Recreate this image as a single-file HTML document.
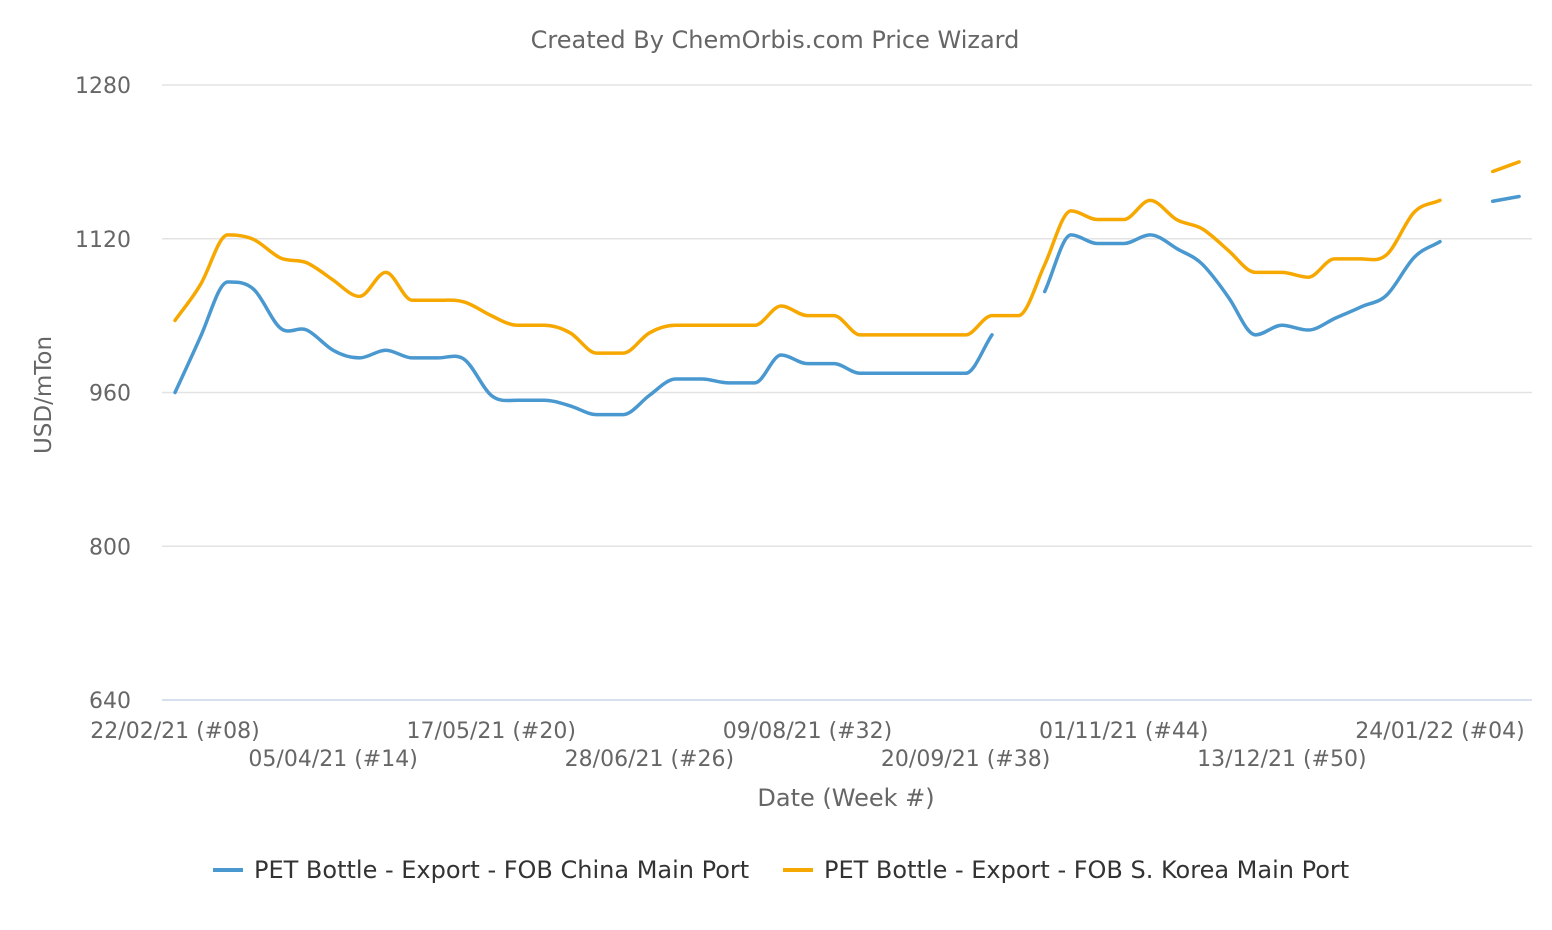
<!DOCTYPE html>
<html><head><meta charset="utf-8"><style>
body{margin:0;background:#fff;}
svg{display:block;font-family:"DejaVu Sans","Liberation Sans",sans-serif;}
</style></head><body>
<svg id="chart" width="1552" height="930">
<text x="775" y="48" text-anchor="middle" font-size="24" fill="#666">Created By ChemOrbis.com Price Wizard</text>
<g id="grid"></g><g id="series"></g><g id="xlabels"></g>
<text transform="translate(51,395) rotate(-90)" text-anchor="middle" font-size="23" fill="#666">USD/mTon</text>
<text x="846" y="806" text-anchor="middle" font-size="24" fill="#666">Date (Week #)</text>
<g><line x1="213" y1="870" x2="243" y2="870" stroke="#4a98d0" stroke-width="4"/><text x="254" y="878" font-size="24" fill="#333">PET Bottle - Export - FOB China Main Port</text></g>
<g><line x1="783" y1="870" x2="813" y2="870" stroke="#f7a800" stroke-width="4"/><text x="824" y="878" font-size="24" fill="#333">PET Bottle - Export - FOB S. Korea Main Port</text></g>
</svg>
<script>
const yTicks=[640,800,960,1120,1280];
const xTickLabels=["22/02/21 (#08)","05/04/21 (#14)","17/05/21 (#20)","28/06/21 (#26)","09/08/21 (#32)","20/09/21 (#38)","01/11/21 (#44)","13/12/21 (#50)","24/01/22 (#04)"];
const chinaValues=[960,1020,1075,1067,1027,1025,1004,996,1004,996,996,994,957,952,952,946,937,937,957,974,974,970,970,999,990,990,980,980,980,980,980,1020,null,1065,1124,1115,1115,1124,1110,1093,1058,1020,1030,1025,1037,1049,1062,1100,1117,null,1159,1164];
const koreaValues=[1035,1074,1124,1119,1100,1095,1077,1060,1085,1056,1056,1054,1040,1030,1030,1022,1001,1001,1022,1030,1030,1030,1030,1050,1040,1040,1020,1020,1020,1020,1020,1040,1040,1093,1149,1140,1140,1160,1140,1130,1107,1085,1085,1080,1099,1099,1104,1147,1160,null,1190,1200];
const NS="http://www.w3.org/2000/svg";
const xs=i=>175+i*(1440-175)/48;
const ys=v=>700-(v-640)*615/640;
const grid=document.getElementById('grid');
yTicks.forEach(t=>{
  const l=document.createElementNS(NS,'line');
  l.setAttribute('x1',162);l.setAttribute('x2',1532);l.setAttribute('y1',ys(t));l.setAttribute('y2',ys(t));
  l.setAttribute('stroke',t===640?'#ccd6eb':'#e3e3e3');l.setAttribute('stroke-width',1.5);
  
  
  grid.appendChild(l);
  const tx=document.createElementNS(NS,'text');
  tx.setAttribute('x',131);tx.setAttribute('y',ys(t)+8);tx.setAttribute('text-anchor','end');
  tx.setAttribute('font-size',22);tx.setAttribute('fill','#666');tx.textContent=t;
  
  
  grid.appendChild(tx);
});
const xl=document.getElementById('xlabels');
xTickLabels.forEach((s,k)=>{
  const tx=document.createElementNS(NS,'text');
  tx.setAttribute('x',xs(k*6));tx.setAttribute('y',k%2?766:738);tx.setAttribute('text-anchor','middle');
  tx.setAttribute('font-size',22);tx.setAttribute('fill','#666');tx.textContent=s;
  
  
  xl.appendChild(tx);
});
function seg(pts){
  if(pts.length<2)return '';
  let d='M'+pts[0][0]+','+pts[0][1];
  for(let i=0;i<pts.length-1;i++){
    const p0=pts[i-1]||pts[i],p1=pts[i],p2=pts[i+1],p3=pts[i+2]||p2;
    const t=0.18;
    let c1y=p1[1]+(p2[1]-p0[1])*t, c2y=p2[1]-(p3[1]-p1[1])*t;
    if(i>0&&(p1[1]-p0[1])*(p2[1]-p1[1])<=0)c1y=p1[1];
    if(i+2<pts.length&&(p2[1]-p1[1])*(p3[1]-p2[1])<=0)c2y=p2[1];
    if(i===0)c1y=p1[1]+(p2[1]-p1[1])*0.33;
    if(i+2>=pts.length)c2y=p2[1]-(p2[1]-p1[1])*0.33;
    const dx=(p2[0]-p1[0])/3;
    d+=` C${p1[0]+dx},${c1y} ${p2[0]-dx},${c2y} ${p2[0]},${p2[1]}`;
  }
  return d;
}
const sg=document.getElementById('series');
[[chinaValues,'#4a98d0','series-china'],[koreaValues,'#f7a800','series-korea']].forEach(([vals,col,name])=>{
  let d='',cur=[];
  vals.forEach((v,i)=>{
    if(v===null){d+=seg(cur);cur=[];}
    else cur.push([xs(i),ys(v)]);
  });
  d+=seg(cur);
  const p=document.createElementNS(NS,'path');
  p.setAttribute('d',d);p.setAttribute('fill','none');p.setAttribute('stroke',col);
  p.setAttribute('stroke-width',3.5);p.setAttribute('stroke-linecap','round');p.setAttribute('stroke-linejoin','round');
  
  
  sg.appendChild(p);
});
</script>
</body></html>
